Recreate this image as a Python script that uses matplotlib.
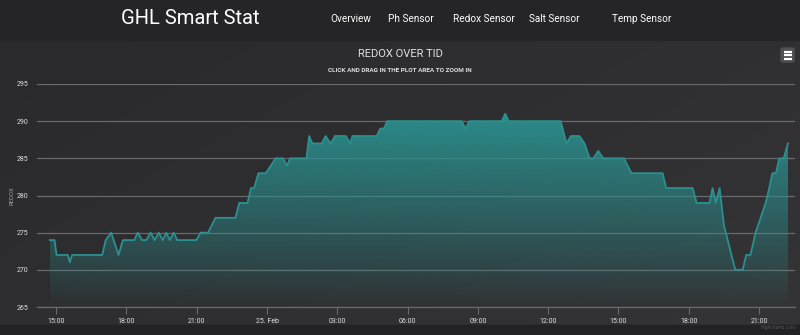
import numpy as np
import pandas as pd
import matplotlib
matplotlib.use("Agg")
import matplotlib.pyplot as plt
import matplotlib.dates as mdates
from matplotlib.patches import FancyBboxPatch, Rectangle
from matplotlib.ticker import FuncFormatter

# Redox readings (24./25. Feb)
times = [
    "02-24 14:44", "02-24 14:56", "02-24 15:01", "02-24 15:30", "02-24 15:35", "02-24 15:41",
    "02-24 16:58", "02-24 17:07", "02-24 17:21", "02-24 17:40", "02-24 17:51", "02-24 18:20",
    "02-24 18:29", "02-24 18:40", "02-24 18:51", "02-24 19:02", "02-24 19:12", "02-24 19:23",
    "02-24 19:33", "02-24 19:42", "02-24 19:51", "02-24 20:01", "02-24 20:10", "02-24 20:59",
    "02-24 21:10", "02-24 21:29", "02-24 21:48", "02-24 22:39", "02-24 22:49", "02-24 23:10",
    "02-24 23:19", "02-24 23:27", "02-24 23:38", "02-24 23:57", "02-25 00:22", "02-25 00:41",
    "02-25 00:51", "02-25 00:59", "02-25 01:41", "02-25 01:48", "02-25 01:56", "02-25 02:20",
    "02-25 02:30", "02-25 02:43", "02-25 02:54", "02-25 03:22", "02-25 03:33", "02-25 03:39",
    "02-25 04:41", "02-25 04:50", "02-25 04:59", "02-25 05:08", "02-25 08:19", "02-25 08:28",
    "02-25 08:38", "02-25 10:01", "02-25 10:10", "02-25 10:19", "02-25 12:32", "02-25 12:47",
    "02-25 12:58", "02-25 13:20", "02-25 13:33", "02-25 13:46", "02-25 13:56", "02-25 14:08",
    "02-25 14:21", "02-25 15:14", "02-25 15:33", "02-25 16:53", "02-25 17:02", "02-25 18:10",
    "02-25 18:20", "02-25 18:53", "02-25 19:01", "02-25 19:09", "02-25 19:19", "02-25 19:30",
    "02-25 19:59", "02-25 20:18", "02-25 20:27", "02-25 20:38", "02-25 20:51", "02-25 21:04",
    "02-25 21:17", "02-25 21:26", "02-25 21:34", "02-25 21:43", "02-25 21:52", "02-25 22:03",
    "02-25 22:14",
]
redox = [
    274, 274, 272, 272, 271, 272,
    272, 274, 275, 272, 274, 274,
    275, 274, 274, 275, 274, 275,
    274, 275, 274, 275, 274, 274,
    275, 275, 277, 277, 279, 279,
    281, 281, 283, 283, 285, 285,
    284, 285, 285, 288, 287, 287,
    288, 287, 288, 288, 287, 288,
    288, 289, 289, 290, 290, 289,
    290, 290, 291, 290, 290, 287,
    288, 288, 287, 285, 285, 286,
    285, 285, 283, 283, 281, 281,
    279, 279, 281, 279, 281, 276,
    270, 270, 272, 272, 275, 277,
    279, 281, 283, 283, 285, 285,
    287,
]
y_ticks = [265, 270, 275, 280, 285, 290, 295]
x_start, x_end = "2020-02-24 14:11", "2020-02-25 22:32"
nav_items = ["Overview", "Ph Sensor", "Redox Sensor", "Salt Sensor", "Temp Sensor"]
nav_x = [351, 411, 484, 554, 642]

TEAL = "#2b908f"
TXT = "#E0E0E3"
GRID = "#6a6a6e"
FAM = ["Roboto", "DejaVu Sans"]

t = pd.to_datetime(["2020-" + s for s in times], format="%Y-%m-%d %H:%M")
tn = mdates.date2num(t)
vals = np.array(redox, dtype=float)

W, H = 800, 335
fig = plt.figure(figsize=(8, 3.35), dpi=100)
fig.patch.set_facecolor("#2c2c2f")

# page background: header bar, chart body with soft diagonal gradient, footer strip
bg = fig.add_axes([0, 0, 1, 1], zorder=-10)
bg.set_xlim(0, W)
bg.set_ylim(H, 0)
bg.axis("off")
gx, gy = np.meshgrid(np.linspace(0, 1, 200), np.linspace(0, 1, 100))
g = (gx * 0.6 + gy * 0.4)
c0, c1 = np.array([42, 42, 44]) / 255, np.array([52, 52, 55]) / 255
img = c0 + (c1 - c0) * g[..., None]
bg.imshow(img, extent=[0, W, 325, 40], aspect="auto", zorder=0)
bg.add_patch(Rectangle((0, 0), W, 40, color="#252527", zorder=1))
bg.add_patch(Rectangle((0, 325), W, 10, color="#222224", zorder=1))

bg.text(190, 19, "GHL Smart Stat", color="white", fontsize=14.5,
        family=FAM, ha="center", va="center", zorder=2)
for name, xx in zip(nav_items, nav_x):
    bg.text(xx, 19, name, color="white", fontsize=7.2, family=FAM,
            ha="center", va="center", zorder=2)

bg.text(400, 54, "REDOX OVER TID", color=TXT, fontsize=8, family=FAM,
        ha="center", va="center", zorder=2)
bg.text(400, 71, "CLICK AND DRAG IN THE PLOT AREA TO ZOOM IN", color=TXT,
        fontsize=4.6, family=FAM, fontweight="bold", ha="center", va="center", zorder=2)
bg.text(12, 196, "REDOX", color="#A0A0A3", fontsize=4.2, rotation=90,
        family=FAM, ha="center", va="center", zorder=2)
bg.text(796, 327, "Highcharts.com", color="#55555a", fontsize=3.6,
        family=FAM, ha="right", va="center", zorder=2)

# export menu button
bg.add_patch(FancyBboxPatch((781, 48), 13, 14, boxstyle="round,pad=0,rounding_size=2",
                            color="#505053", zorder=2))
for yy in (51.5, 55, 58.5):
    bg.plot([783.5, 791.5], [yy, yy], color="white", lw=1.6,
            solid_capstyle="butt", zorder=3)

# plot area
ax = fig.add_axes([37 / W, 28 / H, (795 - 37) / W, (307 - 84) / H])
ax.set_facecolor("none")
ax.set_xlim(mdates.datestr2num(x_start), mdates.datestr2num(x_end))
ax.set_ylim(y_ticks[0], y_ticks[-1])

# gradient area under the line
fill = ax.fill_between(tn, vals, y_ticks[0], color="none", lw=0)
grad = np.zeros((256, 1, 4))
grad[..., :3] = matplotlib.colors.to_rgb(TEAL)
grad[:, 0, 3] = np.linspace(0.95, 0.0, 256) ** 0.9
im = ax.imshow(grad, extent=[tn[0], tn[-1], y_ticks[0], vals.max()],
               aspect="auto", origin="upper", zorder=1)
im.set_clip_path(fill.get_paths()[0], transform=ax.transData)
ax.plot(tn, vals, color=TEAL, lw=1.3, zorder=3)

ax.set_yticks(y_ticks)
ax.grid(axis="y", color=GRID, lw=0.9, zorder=0)
ax.set_axisbelow(True)
ax.tick_params(axis="y", length=0, pad=6, labelsize=5, labelcolor=TXT)

ax.xaxis.set_major_locator(mdates.HourLocator(byhour=range(0, 24, 3)))


def fmt_time(x, pos):
    d = mdates.num2date(x)
    if d.hour == 0:
        return "25. Feb"
    return d.strftime("%H:%M")


ax.xaxis.set_major_formatter(FuncFormatter(fmt_time))
ax.tick_params(axis="x", length=5, width=0.8, color=GRID, pad=3,
               labelsize=5, labelcolor=TXT)
for lab in ax.get_yticklabels() + ax.get_xticklabels():
    lab.set_family(FAM)

for side in ("top", "right", "left"):
    ax.spines[side].set_visible(False)
ax.spines["bottom"].set_color(GRID)
ax.spines["bottom"].set_linewidth(0.9)

fig.savefig("out.png", dpi=100, facecolor=fig.get_facecolor())
